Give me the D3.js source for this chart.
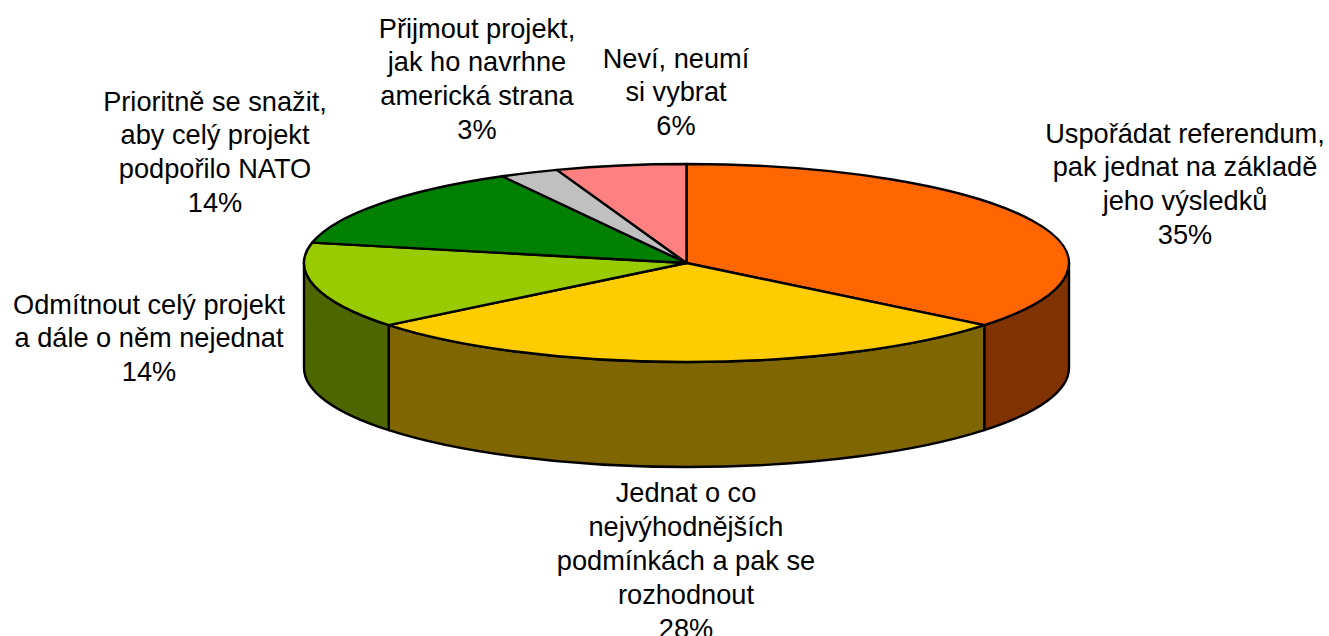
<!DOCTYPE html>
<html><head><meta charset="utf-8">
<script src="https://cdn.jsdelivr.net/npm/d3@7/dist/d3.min.js"></script>
<style>html,body{margin:0;background:#fff}svg{display:block}text{font-family:"Liberation Sans",Arial,sans-serif;font-size:27.2px;fill:#000}</style>
</head><body><svg id="c" width="1329" height="636"></svg>
<script>
const categories=[
 ["Uspořádat referendum,","pak jednat na základě","jeho výsledků"],
 ["Jednat o co","nejvýhodnějších","podmínkách a pak se","rozhodnout"],
 ["Odmítnout celý projekt","a dále o něm nejednat"],
 ["Prioritně se snažit,","aby celý projekt","podpořilo NATO"],
 ["Přijmout projekt,","jak ho navrhne","americká strana"],
 ["Neví, neumí","si vybrat"]];
const values=[35.8,28.4,14.1,13.7,2.5,5.5];
const percentLabels=["35%","28%","14%","14%","3%","6%"];
const topColors=["#FF6600","#FFCC00","#99CC00","#008000","#C0C0C0","#FF8080"];
const sideColors=["#803300","#806600","#4D6600","#004000","#606060","#804040"];
const labelX=[1185,686,149,215,477,676];
const labelY=[142.5,502,313.5,110.5,37.5,67.5];

const cx=686.5,cy=263,rx=382.5,ry=99,depth=105,lineH=33.9;
const svg=d3.select("#c");
const arcs=d3.pie().sort(null).value(d=>d)(values);
const sx=d3.scaleLinear().domain([-1,1]).range([cx-rx,cx+rx]);
const sy=d3.scaleLinear().domain([-1,1]).range([cy-ry,cy+ry]);
const px=a=>sx(Math.sin(a)), py=a=>sy(-Math.cos(a));
function style(s,col){s.attr("fill",col).attr("stroke","#000").attr("stroke-width",2.4).attr("stroke-linejoin","round");}

// side walls: only the front half (PI/2 .. 3PI/2) is visible
arcs.forEach((d,i)=>{
  const a0=Math.max(d.startAngle,Math.PI/2),a1=Math.min(d.endAngle,3*Math.PI/2);
  if(a1<=a0)return;
  const p=`M${px(a0)},${py(a0)}A${rx},${ry} 0 0 1 ${px(a1)},${py(a1)}L${px(a1)},${py(a1)+depth}A${rx},${ry} 0 0 0 ${px(a0)},${py(a0)+depth}Z`;
  svg.append("path").attr("d",p).call(style,sideColors[i]);
});
// top slices
arcs.forEach((d,i)=>{
  const large=d.endAngle-d.startAngle>Math.PI?1:0;
  const p=`M${cx},${cy}L${px(d.startAngle)},${py(d.startAngle)}A${rx},${ry} 0 ${large} 1 ${px(d.endAngle)},${py(d.endAngle)}Z`;
  svg.append("path").attr("d",p).call(style,topColors[i]);
});
// labels
categories.forEach((lines,i)=>{
  const t=svg.append("text").attr("text-anchor","middle");
  lines.concat([percentLabels[i]]).forEach((l,j)=>{
    t.append("tspan").attr("x",labelX[i]).attr("y",labelY[i]+j*lineH).text(l);
  });
});
</script></body></html>
